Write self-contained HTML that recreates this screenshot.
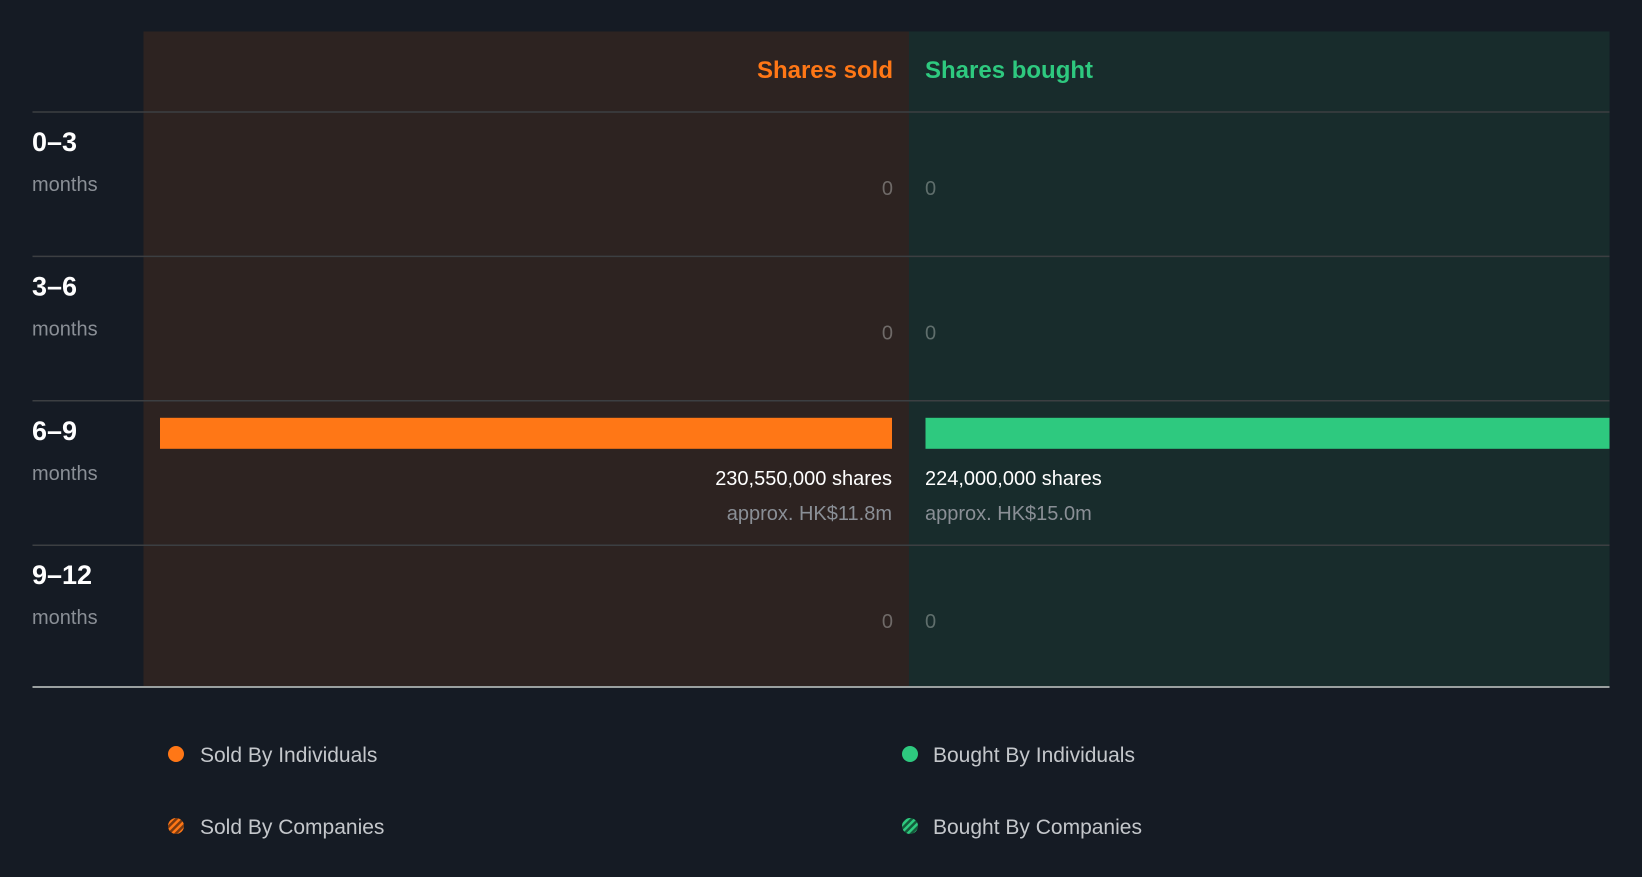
<!DOCTYPE html>
<html><head><meta charset="utf-8"><style>
body{margin:0;background:#151b24;width:1642px;height:872px;overflow:hidden;font-family:"Liberation Sans",sans-serif}
svg text{font-family:"Liberation Sans",sans-serif}
</style></head><body>
<svg width="1642" height="872">
<defs>
<pattern id="hs" width="5" height="5" patternUnits="userSpaceOnUse" patternTransform="rotate(45)"><rect width="5" height="5" fill="#7a3a10"/><rect width="2.5" height="5" fill="#ff7716"/></pattern>
<pattern id="hb" width="5" height="5" patternUnits="userSpaceOnUse" patternTransform="rotate(45)"><rect width="5" height="5" fill="#145a3a"/><rect width="2.5" height="5" fill="#2ec97f"/></pattern>
</defs>
<rect x="143.5" y="31.5" width="765.5" height="656" fill="#2d2321"/>
<rect x="909" y="31.5" width="700.5" height="656" fill="#182c2c"/>
<text x="893" y="78" text-anchor="end" fill="#ff7716" font-size="24" font-weight="bold">Shares sold</text>
<text x="925" y="78" fill="#2ec97f" font-size="24" font-weight="bold">Shares bought</text>
<g id="rows"></g>
<line x1="32.5" x2="1609.5" y1="687" y2="687" stroke="#9aa0a0" stroke-width="2"/>
<g>
<circle cx="176" cy="754" r="8" fill="#ff7716"/>
<text x="200" y="762" fill="#c4c7cb" font-size="21">Sold By Individuals</text>
<circle cx="910" cy="754" r="8" fill="#2ec97f"/>
<text x="933" y="762" fill="#c4c7cb" font-size="21">Bought By Individuals</text>
<circle cx="176" cy="826" r="8" fill="url(#hs)"/>
<text x="200" y="834" fill="#c4c7cb" font-size="21">Sold By Companies</text>
<circle cx="910" cy="826" r="8" fill="url(#hb)"/>
<text x="933" y="834" fill="#c4c7cb" font-size="21">Bought By Companies</text>
</g>
</svg>
<script>
const periods=["0–3","3–6","6–9","9–12"];
const sold=[0,0,230550000,0];
const bought=[0,0,224000000,0];
const soldValue=["","","approx. HK$11.8m",""];
const boughtValue=["","","approx. HK$15.0m",""];
const NS="http://www.w3.org/2000/svg";
const g=document.getElementById('rows');
const rowTop=i=>112+i*144.4;
const maxV=Math.max(...sold,...bought);
const wScale=v=>v/maxV*732;
function mk(tag,attrs,txt){const e=document.createElementNS(NS,tag);for(const k in attrs)e.setAttribute(k,attrs[k]);if(txt!==undefined)e.textContent=txt;g.appendChild(e);return e;}
periods.forEach((p,i)=>{
  const y=rowTop(i);
  let e=mk('line',{x1:32.5,x2:1609.5,y1:y,y2:y,stroke:'#3c3f42','stroke-width':1.5});
  
  
  e=mk('text',{x:32,y:y+39,fill:'#fff','font-size':27,'font-weight':'bold'},p);
  
  
  e=mk('text',{x:32,y:y+79,fill:'#8a8f96','font-size':20},'months');
  
  
  const fmt=v=>v.toLocaleString('en-US')+' shares';
  if(sold[i]>0){
    const w=wScale(sold[i]);
    e=mk('rect',{x:892-w,y:y+17,width:w,height:31,fill:'#ff7716'});
    
    
    e=mk('text',{x:892,y:y+84,'text-anchor':'end',fill:'#fff','font-size':20},fmt(sold[i]));
    
    
    e=mk('text',{x:892,y:y+119,'text-anchor':'end',fill:'#8a8f96','font-size':20},soldValue[i]);
    
    
  } else {
    e=mk('text',{x:893,y:y+83,'text-anchor':'end',fill:'#6f6a68','font-size':20},'0');
    
    
  }
  if(bought[i]>0){
    const w=Math.min(wScale(bought[i]),1609.5-925.5);
    e=mk('rect',{x:925.5,y:y+17,width:w,height:31,fill:'#2ec97f'});
    
    
    e=mk('text',{x:925,y:y+84,fill:'#fff','font-size':20},fmt(bought[i]));
    
    
    e=mk('text',{x:925,y:y+119,fill:'#8a8f96','font-size':20},boughtValue[i]);
    
    
  } else {
    e=mk('text',{x:925,y:y+83,fill:'#5f6e6c','font-size':20},'0');
    
    
  }
});
</script>
</body></html>
